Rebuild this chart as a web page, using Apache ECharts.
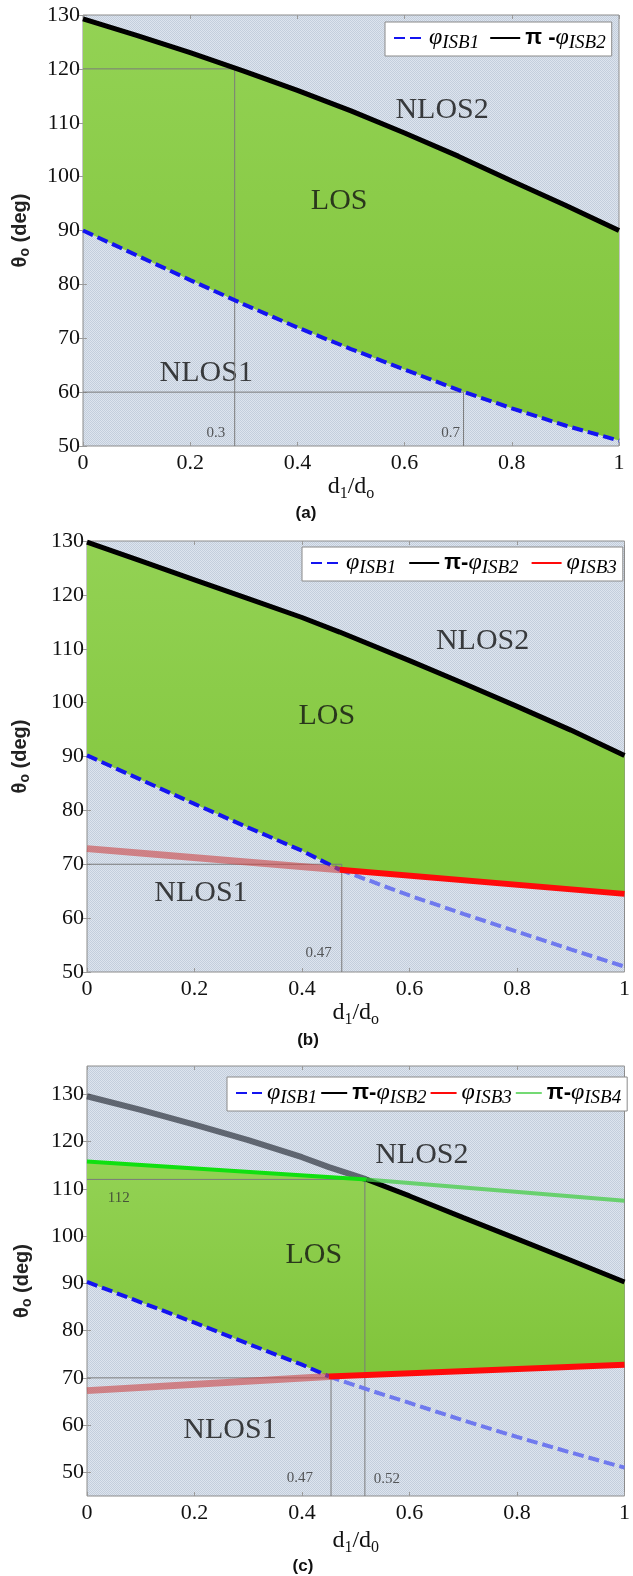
<!DOCTYPE html>
<html>
<head>
<meta charset="utf-8">
<script src="https://cdn.jsdelivr.net/npm/echarts@6/dist/echarts.min.js"></script>
<style>
html, body { margin: 0; padding: 0; background: #fff; }
#chart { width: 633px; height: 1576px; }
</style>
</head>
<body>
<div id="chart"></div>
<script>
// ---- data ----
// (a)
const aX = [0, 0.1, 0.2, 0.3, 0.4, 0.5, 0.6, 0.7, 0.8, 0.9, 1];
const aIsb1 = [90, 85.4, 80.8, 76.3, 72, 68, 64.2, 60.4, 57, 53.8, 51];
const aIsb2 = [129.3, 126.2, 123, 119.6, 116, 112.2, 108.1, 103.8, 99.2, 94.7, 90];
const aRegions = [['NLOS2', 0.67, 112.4], ['LOS', 0.478, 95.4], ['NLOS1', 0.23, 63.5]];
const aMarks = [['0.3', 0.248, 52.4], ['0.7', 0.686, 52.4]];
const aGuides = [[[0, 120], [0.283, 120], [0.283, 50]], [[0, 60], [0.71, 60], [0.71, 50]]];

// (b)
const bX = [0, 0.1, 0.2, 0.3, 0.4, 0.47, 0.6, 0.7, 0.8, 0.9, 1];
const bIsb1 = [90.2, 85.7, 81.2, 76.8, 72.5, 69, 64.2, 60.8, 57.5, 54.2, 51];
const bIsb2 = [129.8, 126.3, 122.8, 119.3, 115.8, 113.1, 107.8, 103.6, 99.3, 94.9, 90.2];
const bX3 = [0, 0.47, 1];
const bIsb3 = [72.9, 69, 64.5];
const bCross = 0.47;
const bRegions = [['NLOS2', 0.736, 111.4], ['LOS', 0.446, 97.5], ['NLOS1', 0.212, 64.6]];
const bMarks = [['0.47', 0.431, 53.6]];
const bGuides = [[[0, 70], [0.474, 70], [0.474, 50]]];

// (c)
const cX = [0, 0.1, 0.2, 0.3, 0.4, 0.45, 0.52, 0.6, 0.7, 0.8, 0.9, 1];
const cIsb1 = [90.3, 86, 81.7, 77.2, 72.8, 70.3, 67.6, 64.7, 61, 57.5, 54.2, 51];
const cIsb2 = [129.6, 126.7, 123.6, 120.3, 116.7, 114.6, 112, 108.5, 103.9, 99.4, 94.9, 90.3];
const cX3 = [0, 0.45, 1];
const cIsb3 = [67.3, 70.3, 72.8];
const cX4 = [0, 0.52, 1];
const cIsb4 = [115.8, 112, 107.5];
const cLow = 0.45, cHigh = 0.52;
const cRegions = [['NLOS2', 0.623, 117.2], ['LOS', 0.422, 95.9], ['NLOS1', 0.266, 59]];
const cMarks = [['0.47', 0.396, 48.9], ['0.52', 0.558, 48.6], ['112', 0.059, 108]];
const cGuides = [[[0, 112], [0.517, 112], [0.517, 45]], [[0, 70], [0.454, 70], [0.454, 45]]];

const yTicks = [50, 60, 70, 80, 90, 100, 110, 120, 130];

const zip = (xs, ys) => xs.map((x, i) => [x, ys[i]]);
const upTo = (pts, x) => pts.filter(p => p[0] <= x);
const from = (pts, x) => pts.filter(p => p[0] >= x);

const a1 = zip(aX, aIsb1), a2 = zip(aX, aIsb2);
const b1 = zip(bX, bIsb1), b2 = zip(bX, bIsb2), b3 = zip(bX3, bIsb3);
const c1 = zip(cX, cIsb1), c2 = zip(cX, cIsb2), c3 = zip(cX3, cIsb3), c4 = zip(cX4, cIsb4);

// LOS region boundaries
const fills = [
  { upper: a2, lower: a1 },
  { upper: b2, lower: upTo(b1, bCross).concat(from(b3, bCross).slice(1)) },
  { upper: upTo(c4, cHigh).concat(from(c2, cHigh).slice(1)),
    lower: upTo(c1, cLow).concat(from(c3, cLow).slice(1)) }
];

// hatched background
const pat = document.createElement('canvas');
pat.width = 2; pat.height = 2;
const pctx = pat.getContext('2d');
pctx.fillStyle = '#dde4ee'; pctx.fillRect(0, 0, 2, 2);
pctx.fillStyle = '#c3cedc'; pctx.fillRect(0, 0, 1, 1); pctx.fillRect(1, 1, 1, 1);

const serif = 'Liberation Serif';
const sans = 'Liberation Sans';
const gridBox = [[83, 15, 536, 431], [87, 541, 543, 431], [87, 1066, 545, 430]];
const yMin = [50, 50, 45], yMax = [130, 130, 136];
const xSub = ['o', 'o', '0'];
const xNameGap = [26, 26, 30];
const yNameGap = [51, 55, 53];

const greenFill = new echarts.graphic.LinearGradient(0, 0, 0, 1, [
  { offset: 0, color: '#93d254' }, { offset: 1, color: '#80c43a' }
]);

const grid = gridBox.map(g => ({
  left: g[0], top: g[1], width: g[2], height: g[3], show: true,
  backgroundColor: { image: pat, repeat: 'repeat' },
  borderColor: '#8c8c8c', borderWidth: 1
}));

const tick = { show: true, inside: true, length: 4, lineStyle: { color: '#9a9a9a' } };
const xAxis = [], yAxis = [];
gridBox.forEach((g, i) => {
  xAxis.push({
    type: 'value', gridIndex: i, min: 0, max: 1, interval: 0.2,
    axisLine: { show: false }, splitLine: { show: false }, axisTick: tick,
    axisLabel: { fontFamily: serif, fontSize: 22, color: '#111', margin: 6 },
    name: '{d|d}{s|1}{d|/d}{s|' + xSub[i] + '}', nameLocation: 'middle', nameGap: xNameGap[i],
    nameTextStyle: {
      rich: {
        d: { fontFamily: serif, fontSize: 24, lineHeight: 30, color: '#111' },
        s: { fontFamily: serif, fontSize: 16, lineHeight: 16, verticalAlign: 'bottom', color: '#111' }
      }
    }
  });
  xAxis.push({
    type: 'value', gridIndex: i, min: 0, max: 1, interval: 0.2, position: 'top',
    axisLine: { show: false }, splitLine: { show: false }, axisTick: tick, axisLabel: { show: false }
  });
  const yl = {
    type: 'value', gridIndex: i, min: yMin[i], max: yMax[i],
    axisLine: { show: false }, splitLine: { show: false }, axisTick: Object.assign({}, tick),
    axisLabel: { fontFamily: serif, fontSize: 22, color: '#111', margin: 3 },
    name: '{t|θ}{s|o}{n| (deg)}', nameLocation: 'middle', nameGap: yNameGap[i],
    nameTextStyle: {
      rich: {
        t: { fontFamily: sans, fontWeight: 'bold', fontSize: 20, lineHeight: 24, color: '#222' },
        s: { fontFamily: sans, fontWeight: 'bold', fontSize: 14, lineHeight: 15, verticalAlign: 'bottom', color: '#222' },
        n: { fontFamily: sans, fontWeight: 'bold', fontSize: 20, lineHeight: 24, color: '#222' }
      }
    }
  };
  const yr = {
    type: 'value', gridIndex: i, min: yMin[i], max: yMax[i], position: 'right',
    axisLine: { show: false }, splitLine: { show: false }, axisTick: Object.assign({}, tick),
    axisLabel: { show: false }
  };
  if (i === 2) {
    yl.axisLabel.customValues = yTicks; yl.axisTick.customValues = yTicks;
    yr.axisLabel.customValues = yTicks; yr.axisTick.customValues = yTicks;
  } else {
    yl.interval = 10; yr.interval = 10;
  }
  yAxis.push(yl, yr);
});

const series = [];
const ax = i => ({ xAxisIndex: 2 * i, yAxisIndex: 2 * i });

fills.forEach((f, i) => {
  series.push(Object.assign({
    type: 'custom', silent: true, data: [[0.5, 90]], clip: true,
    renderItem: (params, api) => {
      const pts = f.upper.map(p => api.coord(p))
        .concat(f.lower.slice().reverse().map(p => api.coord(p)));
      return { type: 'polygon', shape: { points: pts }, style: { fill: greenFill } };
    }
  }, ax(i)));
});

[aGuides, bGuides, cGuides].forEach((gs, i) => {
  gs.forEach(g => series.push(Object.assign({
    type: 'line', data: g, symbol: 'none', silent: true,
    lineStyle: { color: '#7a7a7a', width: 1 }
  }, ax(i))));
});

const BLUE = '#1414f0', BLUE_L = '#6f79ee', RED = '#ff0a0a', RED_L = 'rgba(205,70,70,0.6)';
const BLACK_L = 'rgba(35,40,50,0.65)', GREEN = '#10e010', GREEN_L = 'rgba(70,205,70,0.75)';
const dash = [11, 5];
function line(name, i, data, color, width, type) {
  series.push(Object.assign({
    name: name, type: 'line', data: data, symbol: 'none', silent: true,
    lineStyle: { color: color, width: width, type: type || 'solid', cap: 'butt' },
    itemStyle: { color: color }
  }, ax(i)));
}
// (a)
line('a_blue', 0, a1, BLUE, 4, dash);
line('a_black', 0, a2, '#000', 5);
// (b)
line('b_blue_l', 1, from(b1, bCross), BLUE_L, 4, dash);
line('b_blue', 1, upTo(b1, bCross), BLUE, 4, dash);
line('b_black', 1, b2, '#000', 5);
line('b_red_l', 1, upTo(b3, bCross), RED_L, 7);
line('b_red', 1, from(b3, bCross), RED, 6);
// (c)
line('c_blue_l', 2, from(c1, cLow), BLUE_L, 4, dash);
line('c_blue', 2, upTo(c1, cLow), BLUE, 4, dash);
line('c_black_l', 2, upTo(c2, cHigh), BLACK_L, 6);
line('c_black', 2, from(c2, cHigh), '#000', 5);
line('c_red_l', 2, upTo(c3, cLow), RED_L, 7);
line('c_red', 2, from(c3, cLow), RED, 6);
line('c_green_l', 2, from(c4, cHigh), GREEN_L, 4);
line('c_green', 2, upTo(c4, cHigh), GREEN, 4);

function labels(list, i, size, color) {
  series.push(Object.assign({
    type: 'scatter', silent: true, symbolSize: 1, itemStyle: { color: 'rgba(0,0,0,0)' },
    data: list.map(r => ({ name: r[0], value: [r[1], r[2]] })),
    label: { show: true, position: 'inside', formatter: '{b}', fontFamily: serif, fontSize: size, color: color }
  }, ax(i)));
}
[aRegions, bRegions, cRegions].forEach((r, i) => labels(r, i, 30, '#111'));
[aMarks, bMarks, cMarks].forEach((m, i) => labels(m, i, 15, '#333'));

const legendText = {
  a_blue: '{p|φ}{s|ISB1}', a_black: '{pi|π -}{p|φ}{s|ISB2}',
  b_blue: '{p|φ}{s|ISB1}', b_black: '{pi|π-}{p|φ}{s|ISB2}', b_red: '{p|φ}{s|ISB3}',
  c_blue: '{p|φ}{s|ISB1}', c_black: '{pi|π-}{p|φ}{s|ISB2}', c_red: '{p|φ}{s|ISB3}', c_green_l: '{pi|π-}{p|φ}{s|ISB4}'
};
const legendRich = {
  p: { fontFamily: serif, fontStyle: 'italic', fontSize: 24, lineHeight: 28, color: '#000' },
  s: { fontFamily: serif, fontStyle: 'italic', fontSize: 19, lineHeight: 20, verticalAlign: 'bottom', color: '#000' },
  pi: { fontFamily: sans, fontWeight: 'bold', fontSize: 22, lineHeight: 28, color: '#000' }
};
function legend(names, left, top, gap, w) {
  return {
    data: names, left: left, top: top, orient: 'horizontal', itemGap: gap,
    itemWidth: w, itemHeight: 14, padding: [4, 6, 4, 8],
    backgroundColor: '#fff', borderColor: '#8a8a8a', borderWidth: 1, borderRadius: 0,
    selectedMode: false, formatter: n => legendText[n],
    itemStyle: { opacity: 0 },
    textStyle: { rich: legendRich }
  };
}

const graphic = [['(a)', 306, 513], ['(b)', 308, 1040], ['(c)', 303, 1566]].map(t => ({
  type: 'text', x: t[1], y: t[2], silent: true,
  style: { text: t[0], fontFamily: sans, fontWeight: 'bold', fontSize: 17, fill: '#111', align: 'center', verticalAlign: 'middle' }
}));

const chart = echarts.init(document.getElementById('chart'));
chart.setOption({
  animation: false,
  backgroundColor: '#fff',
  grid: grid,
  xAxis: xAxis,
  yAxis: yAxis,
  legend: [
    legend(['a_blue', 'a_black'], 385, 22, 10, 30),
    legend(['b_blue', 'b_black', 'b_red'], 302, 547, 12, 30),
    legend(['c_blue', 'c_black', 'c_red', 'c_green_l'], 227, 1077, 3, 26)
  ],
  graphic: graphic,
  series: series
});
</script>
</body>
</html>
